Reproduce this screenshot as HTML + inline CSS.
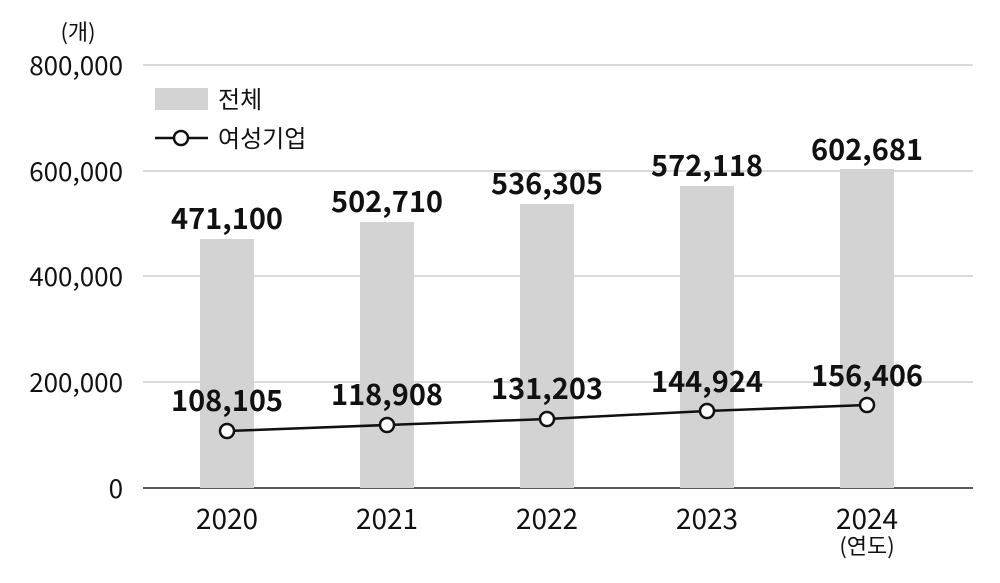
<!DOCTYPE html>
<html><head><meta charset="utf-8"><style>
html,body{margin:0;padding:0;background:#fff;}
svg text{font-family:"Noto Sans CJK KR","Liberation Sans",sans-serif;fill:#111;}
</style></head><body>
<svg width="1000" height="578" viewBox="0 0 1000 578" xmlns="http://www.w3.org/2000/svg">
<g stroke="#b5b5b5" stroke-width="1">
<line x1="143" y1="65" x2="973" y2="65"/>
<line x1="143" y1="171" x2="973" y2="171"/>
<line x1="143" y1="276" x2="973" y2="276"/>
<line x1="143" y1="382" x2="973" y2="382"/>
</g>
<line x1="143" y1="488" x2="973" y2="488" stroke="#222" stroke-width="1.5"/>
<g font-size="26" text-anchor="end">
<text x="123" y="75">800,000</text>
<text x="123" y="181">600,000</text>
<text x="123" y="286">400,000</text>
<text x="123" y="392">200,000</text>
<text x="123" y="498">0</text>
</g>
<text x="78" y="40" font-size="22" text-anchor="middle">(개)</text>
<g fill="#d3d3d3">
<rect x="200" y="239" width="54" height="249"/>
<rect x="360" y="222" width="54" height="266"/>
<rect x="520" y="204" width="54" height="284"/>
<rect x="680" y="186" width="54" height="302"/>
<rect x="840" y="169" width="54" height="319"/>
</g>
<g font-size="29" font-weight="bold" text-anchor="middle">
<text x="227" y="229">471,100</text>
<text x="387" y="212">502,710</text>
<text x="547" y="194">536,305</text>
<text x="707" y="176">572,118</text>
<text x="867" y="160">602,681</text>
<text x="227" y="411">108,105</text>
<text x="387" y="405">118,908</text>
<text x="547" y="399">131,203</text>
<text x="707" y="392">144,924</text>
<text x="867" y="386">156,406</text>
</g>
<polyline points="227,431 387,425 547,419 707,411 867,405" fill="none" stroke="#111" stroke-width="2.5"/>
<g fill="#fff" stroke="#111" stroke-width="2.5">
<circle cx="227" cy="431" r="7"/><circle cx="387" cy="425" r="7"/><circle cx="547" cy="419" r="7"/><circle cx="707" cy="411" r="7"/><circle cx="867" cy="405" r="7"/>
</g>
<g font-size="28" text-anchor="middle">
<text x="227" y="529">2020</text>
<text x="387" y="529">2021</text>
<text x="547" y="529">2022</text>
<text x="707" y="529">2023</text>
<text x="867" y="529">2024</text>
<text x="867" y="554" font-size="22">(연도)</text>
</g>
<rect x="155" y="88" width="53" height="22" fill="#d3d3d3"/>
<text x="218" y="108" font-size="24">전체</text>
<line x1="155" y1="138" x2="208" y2="138" stroke="#111" stroke-width="2.5"/>
<circle cx="181" cy="138" r="7" fill="#fff" stroke="#111" stroke-width="2.5"/>
<text x="218" y="147" font-size="24">여성기업</text>
</svg>
</body></html>
